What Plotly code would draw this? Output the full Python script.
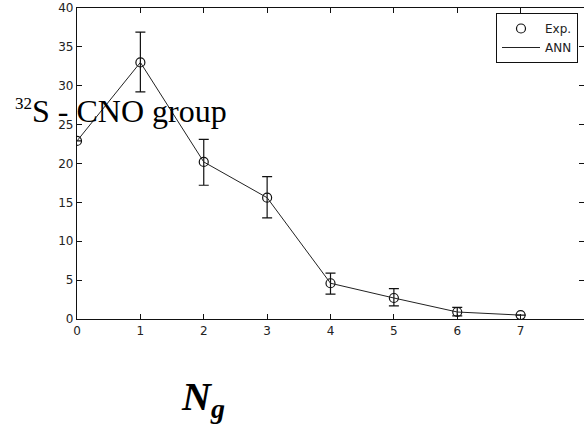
import plotly.graph_objects as go

# Fragment multiplicity data
ng = [0, 1, 2, 3, 4, 5, 6, 7]
exp_vals = [22.9, 33.0, 20.2, 15.6, 4.6, 2.7, 0.9, 0.5]
err_plus = [0.0, 3.9, 2.9, 2.7, 1.3, 1.2, 0.6, 0.0]
err_minus = [0.0, 3.8, 3.0, 2.6, 1.4, 1.0, 0.5, 0.0]
ann_vals = [22.9, 33.0, 20.2, 15.6, 4.6, 2.7, 0.9, 0.5]

x_ticks = [0, 1, 2, 3, 4, 5, 6, 7, 8]
y_ticks = [0, 5, 10, 15, 20, 25, 30, 35, 40]

W, H = 584, 430
ML, MR, MT, MB = 77, 0, 8, 111
pw, ph = W - ML - MR, H - MT - MB


def px_x(px):
    return (px - ML) / pw


def px_y(py):
    return 1 - (py - MT) / ph


SANS = "DejaVu Sans, Arial, sans-serif"
SERIF = "Times New Roman, Liberation Serif, serif"

fig = go.Figure()

fig.add_trace(go.Scatter(
    x=ng, y=exp_vals, mode="markers", name="Exp.",
    marker=dict(symbol="circle-open", size=9, color="#111",
                line=dict(width=1.2, color="#111")),
    error_y=dict(type="data", symmetric=False, array=err_plus,
                 arrayminus=err_minus, color="#111", thickness=1.2, width=5),
))

fig.add_trace(go.Scatter(
    x=ng, y=ann_vals, mode="lines", name="ANN",
    line=dict(color="#222", width=1),
))

axis_common = dict(
    showline=True, linecolor="#111", linewidth=1.2, mirror="ticks",
    ticks="inside", ticklen=5, tickcolor="#111", tickwidth=1,
    showgrid=False, zeroline=False,
    tickfont=dict(family=SANS, size=12, color="#222"),
)

fig.update_xaxes(range=[0, 8], tickvals=x_ticks, **axis_common)
fig.update_yaxes(range=[0, 40], tickvals=y_ticks, **axis_common)

fig.add_annotation(
    x=px_x(13), y=px_y(111), xref="paper", yref="paper",
    xanchor="left", yanchor="middle",
    text="<sup><span style='font-size:17px'>32</span></sup>S - CNO group",
    showarrow=False,
    font=dict(family=SERIF, size=32, color="#000"),
)

fig.add_annotation(
    x=px_x(203), y=px_y(399), xref="paper", yref="paper",
    xanchor="center", yanchor="middle",
    text="<b><i>N<sub>g</sub></i></b>", showarrow=False,
    font=dict(family=SERIF, size=40, color="#000"),
)

fig.update_layout(
    width=W, height=H,
    margin=dict(l=ML, r=MR, t=MT, b=MB),
    paper_bgcolor="white", plot_bgcolor="white",
    showlegend=True,
    legend=dict(
        x=px_x(578), y=px_y(13), xanchor="right", yanchor="top",
        bordercolor="#111", borderwidth=1, bgcolor="white",
        font=dict(family=SANS, size=12, color="#222"),
        tracegroupgap=0, itemwidth=38,
    ),
)

fig.write_html("out.html")
